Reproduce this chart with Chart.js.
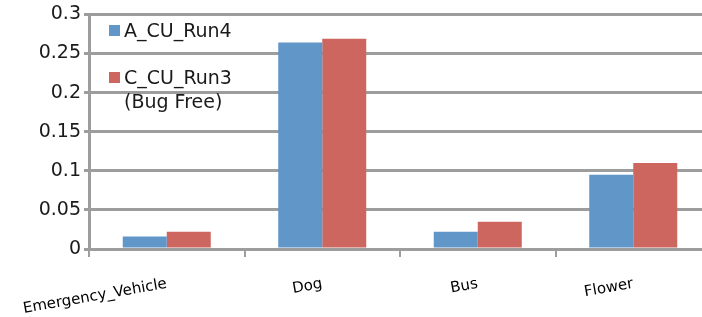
<!DOCTYPE html>
<html>
<head>
<meta charset="utf-8">
<script src="https://cdn.jsdelivr.net/npm/chart.js@4.4.0/dist/chart.umd.min.js"></script>
<style>
html,body{margin:0;padding:0;background:#fff;overflow:hidden;}
#wrap{position:relative;width:712px;height:317px;}
</style>
</head>
<body>
<div id="wrap"><canvas id="c"></canvas></div>
<script>
const categories = ["Emergency_Vehicle", "Dog", "Bus", "Flower"];
const seriesA = [0.016, 0.264, 0.022, 0.095];
const seriesC = [0.022, 0.269, 0.035, 0.110];
const seriesNames = [["A_CU_Run4"], ["C_CU_Run3", "(Bug Free)"]];
const yTickLabels = ["0", "0.05", "0.1", "0.15", "0.2", "0.25", "0.3"];

const BLUE = "#6196c9";
const RED = "#cc665f";
const GRID = "#9d9d9d";

const legendPlugin = {
  id: "innerLegend",
  afterDraw(chart) {
    const ctx = chart.ctx;
    ctx.save();
    ctx.font = "19px 'DejaVu Sans'";
    ctx.textBaseline = "alphabetic";
    const entries = chart.data.datasets;
    const startY = [37, 84];
    entries.forEach((ds, i) => {
      ctx.fillStyle = ds.backgroundColor;
      ctx.fillRect(109, startY[i] - 12, 11, 11);
      ctx.fillStyle = "#1a1a1a";
      seriesNames[i].forEach((ln, j) => {
        ctx.fillText(ln, 124, startY[i] + j * 24);
      });
    });
    ctx.restore();
  }
};

new Chart(document.getElementById("c"), {
  type: "bar",
  data: {
    labels: categories,
    datasets: [
      { label: seriesNames[0].join(" "), data: seriesA, backgroundColor: BLUE, categoryPercentage: 0.566, barPercentage: 1.0 },
      { label: seriesNames[1].join(" "), data: seriesC, backgroundColor: RED, categoryPercentage: 0.566, barPercentage: 1.0 }
    ]
  },
  options: {
    responsive: true,
    maintainAspectRatio: false,
    animation: false,
    layout: { padding: { top: 13, right: 1, left: 0, bottom: 0 } },
    plugins: { legend: { display: false }, tooltip: { enabled: false } },
    scales: {
      x: {
        grid: { display: true, drawOnChartArea: false, drawTicks: true, tickLength: 8, color: GRID, lineWidth: 2, offset: true },
        border: { display: true, color: GRID, width: 3 },
        ticks: { color: "#000", font: { family: "DejaVu Sans", size: 15 }, minRotation: 10, maxRotation: 10, padding: 18, autoSkip: false },
        afterFit(scale) { scale.height = 68; scale.paddingLeft = 0; scale.paddingRight = 0; }
      },
      y: {
        min: 0, max: 0.3,
        grid: { color: GRID, lineWidth: 3, tickLength: 5, drawTicks: true },
        border: { display: true, color: GRID, width: 3 },
        ticks: {
          stepSize: 0.05,
          color: "#1a1a1a",
          font: { family: "DejaVu Sans", size: 19 },
          padding: 3,
          callback: (v, i) => yTickLabels[i]
        },
        afterFit(scale) { scale.width = 89; }
      }
    }
  },
  plugins: [legendPlugin]
});
</script>
</body>
</html>
